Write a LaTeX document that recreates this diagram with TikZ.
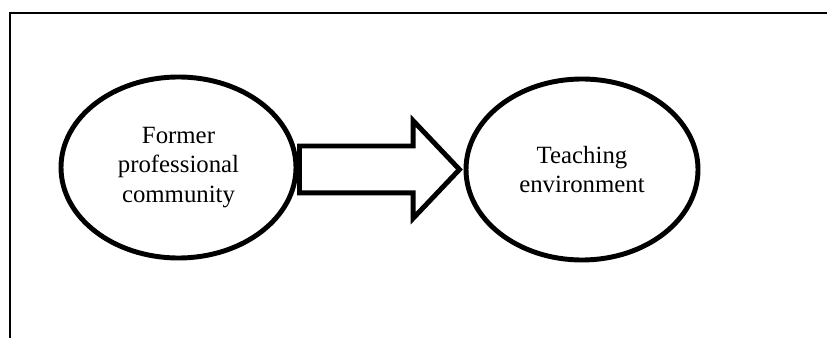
\documentclass[tikz,border=0pt]{standalone}
\usepackage{fontspec}
\setmainfont{Liberation Serif}
\usetikzlibrary{shapes.geometric,shapes.arrows}
\begin{document}
\begin{tikzpicture}[x=0.75pt,y=-0.75pt,
  framerule/.style={line width=1.6pt},
  bubble/.style={ellipse,draw,line width=3.7pt,inner sep=0pt,align=center,
    font=\fontsize{18.6}{22}\selectfont},
  blockarrow/.style={single arrow,draw,line width=3.7pt,inner xsep=0pt,
    inner ysep=15.75pt,minimum width=0pt,single arrow head extend=19.1pt,
    single arrow tip angle=93,minimum height=120pt,anchor=tail}]
\useasboundingbox (0,0) rectangle (827,338);
% open frame: top and left rules
\coordinate (corner) at (10,13);
\coordinate (topend) at (828,13);
\coordinate (leftend) at (10,339);
\draw[framerule] (topend) -- (corner) -- (leftend);
% the two communities
\node[bubble,minimum width=176.25pt,minimum height=135.75pt] (former) at (178.5,167.5)
  {Former\\professional\\community};
\node[bubble,minimum width=174pt,minimum height=135.75pt] (teaching) at (582,169.5)
  {Teaching\\environment};
% block arrow from one to the other
\node[blockarrow] (move) at (297,169.5) {};
\end{tikzpicture}
\end{document}
